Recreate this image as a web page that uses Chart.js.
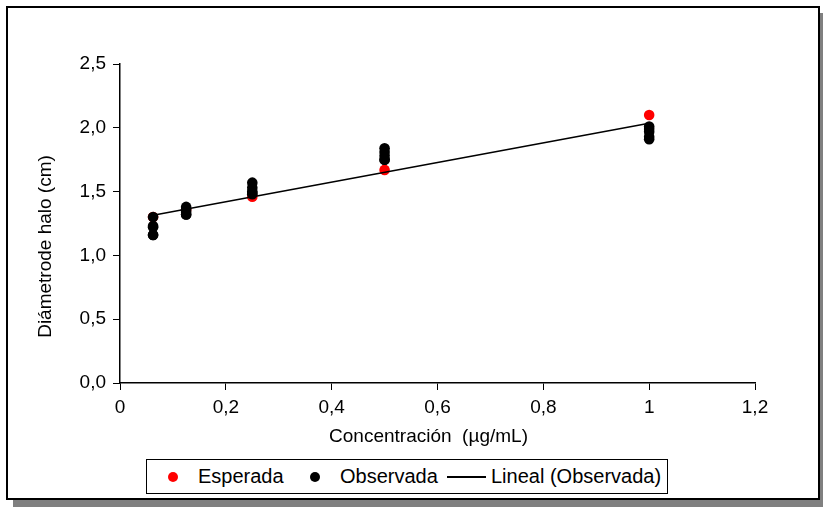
<!DOCTYPE html>
<html>
<head>
<meta charset="utf-8">
<script src="https://cdn.jsdelivr.net/npm/chart.js@4"></script>
<style>
  html, body { margin: 0; padding: 0; background: #fff; }
  body { width: 823px; height: 511px; position: relative; overflow: hidden; font-family: "Liberation Sans", Arial, sans-serif; }
  #frame { position: absolute; left: 6px; top: 6px; width: 810px; height: 490px; border: 2px solid #000; background: #fff; box-shadow: 7px 7px 0 #808080; }
  #frame canvas { position: absolute; left: 0; top: 0; }
  #legend { position: absolute; left: 146px; top: 459px; width: 520px; height: 33px; border: 1px solid #000; background: #fff;
            font-size: 20px; color: #000; white-space: nowrap; }
  #legend .item { position: absolute; top: 0; height: 33px; line-height: 33px; }
  #legend .dot { position: absolute; width: 10px; height: 10px; border-radius: 50%; top: 12px; }
  #legend .bar { position: absolute; height: 1.5px; background: #000; top: 16px; width: 39px; }
</style>
</head>
<body>
<div id="frame"><canvas id="chart" width="810" height="490"></canvas></div>
<div id="legend"></div>
<script>
// Concentrations (µg/mL) and halo diameters (cm)
const expectedConc = [0.0625, 0.125, 0.25, 0.5, 1];
const expectedHalo = [1.30, 1.36, 1.46, 1.67, 2.10];

const observedConc = [0.0625, 0.0625, 0.0625, 0.0625, 0.0625,
                      0.125, 0.125, 0.125, 0.125, 0.125,
                      0.25, 0.25, 0.25, 0.25, 0.25,
                      0.5, 0.5, 0.5, 0.5, 0.5,
                      1, 1, 1, 1, 1];
const observedHalo = [1.30, 1.23, 1.22, 1.16, 1.16,
                      1.38, 1.36, 1.34, 1.32, 1.32,
                      1.57, 1.53, 1.50, 1.49, 1.48,
                      1.84, 1.81, 1.78, 1.75, 1.75,
                      2.01, 1.99, 1.97, 1.93, 1.91];

const xTickValues = [0, 0.2, 0.4, 0.6, 0.8, 1, 1.2];
const xTickLabels = ['0', '0,2', '0,4', '0,6', '0,8', '1', '1,2'];
const yTickValues = [0, 0.5, 1, 1.5, 2, 2.5];
const yTickLabels = ['0,0', '0,5', '1,0', '1,5', '2,0', '2,5'];

const seriesNames = ['Esperada', 'Observada', 'Lineal (Observada)'];
const xTitle = 'Concentración  (µg/mL)';
const yTitle = 'Diámetrode halo (cm)';

// Least-squares line through the observed points
function linearFit(xs, ys) {
  const n = xs.length;
  const mx = xs.reduce((a, b) => a + b, 0) / n;
  const my = ys.reduce((a, b) => a + b, 0) / n;
  let sxy = 0, sxx = 0;
  for (let i = 0; i < n; i++) { sxy += (xs[i] - mx) * (ys[i] - my); sxx += (xs[i] - mx) ** 2; }
  const slope = sxy / sxx;
  return { slope, intercept: my - slope * mx };
}
const fit = linearFit(observedConc, observedHalo);
const xMin = Math.min(...observedConc), xMax = Math.max(...observedConc);
const trend = [xMin, xMax].map(x => ({ x, y: fit.intercept + fit.slope * x }));

const toPoints = (xs, ys) => xs.map((x, i) => ({ x, y: ys[i] }));

const FAMILY = '"Liberation Sans", Arial, sans-serif';
const FONT = { family: FAMILY, size: 19 };

function labelFor(values, labels) {
  return v => {
    const i = values.findIndex(t => Math.abs(t - v) < 1e-9);
    return i >= 0 ? labels[i] : '';
  };
}

// Axis titles, placed the way the spreadsheet layout puts them
const axisTitles = {
  id: 'axisTitles',
  afterDraw(chart) {
    const { ctx, chartArea, scales } = chart;
    ctx.save();
    ctx.fillStyle = '#000';
    ctx.font = `19px ${FAMILY}`;
    ctx.textAlign = 'center';
    ctx.textBaseline = 'middle';
    ctx.fillText(xTitle, (chartArea.left + chartArea.right) / 2 - 9, scales.x.bottom - 15);
    ctx.translate(scales.y.left + 14, (chartArea.top + chartArea.bottom) / 2 + 23);
    ctx.rotate(-Math.PI / 2);
    ctx.fillText(yTitle, 0, 0);
    ctx.restore();
  }
};

new Chart(document.getElementById('chart'), {
  type: 'scatter',
  data: {
    datasets: [
      { label: seriesNames[2], type: 'line', data: trend, borderColor: '#000', borderWidth: 1.5,
        pointRadius: 0, fill: false, order: 0 },
      { label: seriesNames[1], data: toPoints(observedConc, observedHalo), backgroundColor: '#000',
        borderColor: '#000', borderWidth: 0, pointRadius: 5.3, order: 1 },
      { label: seriesNames[0], data: toPoints(expectedConc, expectedHalo), backgroundColor: '#ff0000',
        borderColor: '#ff0000', borderWidth: 0, pointRadius: 5.3, order: 2 }
    ]
  },
  plugins: [axisTitles],
  options: {
    responsive: false,
    animation: false,
    layout: { padding: { left: 24, top: 56, right: 63, bottom: 46 } },
    plugins: { legend: { display: false }, tooltip: { enabled: false } },
    scales: {
      x: {
        type: 'linear', min: 0, max: 1.2,
        afterBuildTicks: s => { s.ticks = xTickValues.map(v => ({ value: v })); },
        afterFit: s => { s.height = 69; },
        ticks: { color: '#000', font: FONT, padding: 6, maxRotation: 0, callback: labelFor(xTickValues, xTickLabels) },
        grid: { display: true, drawOnChartArea: false, drawTicks: true, tickLength: 7, color: '#000', lineWidth: 1 },
        border: { display: true, color: '#000', width: 1.5 },
        title: { display: false }
      },
      y: {
        type: 'linear', min: 0, max: 2.5,
        afterBuildTicks: s => { s.ticks = yTickValues.map(v => ({ value: v })); },
        afterFit: s => { s.width = 88; },
        ticks: { color: '#000', font: FONT, padding: 7, callback: labelFor(yTickValues, yTickLabels) },
        grid: { display: true, drawOnChartArea: false, drawTicks: true, tickLength: 7, color: '#000', lineWidth: 1 },
        border: { display: true, color: '#000', width: 1.5 },
        title: { display: false }
      }
    }
  }
});

// Legend row below the chart
const legend = document.getElementById('legend');
const legendItems = [
  { kind: 'dot', color: '#ff0000', text: seriesNames[0], mark: 21, label: 51 },
  { kind: 'dot', color: '#000', text: seriesNames[1], mark: 163, label: 193 },
  { kind: 'bar', color: '#000', text: seriesNames[2], mark: 300, label: 344 }
];
legendItems.forEach(it => {
  const m = document.createElement('div');
  m.className = it.kind;
  m.style.left = it.mark + 'px';
  m.style.background = it.color;
  legend.appendChild(m);
  const t = document.createElement('div');
  t.className = 'item';
  t.style.left = it.label + 'px';
  t.textContent = it.text;
  legend.appendChild(t);
});
</script>
</body>
</html>
